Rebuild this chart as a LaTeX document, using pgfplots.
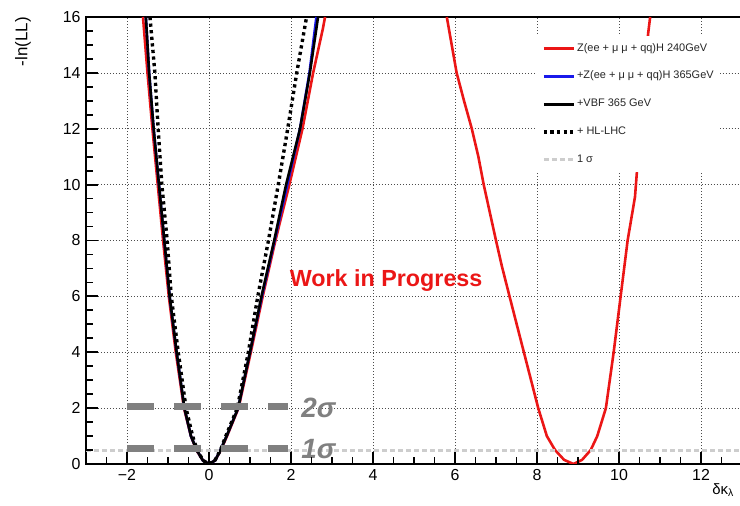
\documentclass[border=0pt]{standalone}
\usepackage{pgfplots}
\pgfplotsset{compat=1.18}
\usepackage{fontspec}
\setmainfont{Liberation Sans}

\definecolor{rootred}{RGB}{235,22,22}
\definecolor{rootblue}{RGB}{25,25,235}
\definecolor{annogray}{RGB}{128,128,128}
\definecolor{siggray}{RGB}{205,205,205}

\begin{document}
\begin{tikzpicture}
\begin{axis}[
  name=ax,
  at={(0,0)}, anchor=south west,
  scale only axis,
  width=656bp, height=447bp,
  xmin=-3, xmax=13.0, ymin=0, ymax=16,
  xtick={-2,0,...,12}, ytick={0,2,...,16},
  xticklabels={−2,0,2,4,6,8,10,12},
  minor x tick num=3, minor y tick num=3,
  tick pos=left,
  tick align=inside,
  major tick length=12bp, minor tick length=7bp,
  xmajorgrids=true, ymajorgrids=true,
  major grid style={black!70, line width=0.7pt, dash pattern=on 0.8pt off 2.2pt},
  axis line style={black, line width=1.4pt},
  tick style={draw=black, solid, line width=1.8pt},
  ticklabel style={font=\fontsize{16}{16}\selectfont},
  xticklabel style={yshift=-2bp},
  yticklabel style={xshift=-2bp},
  /pgf/number format/assume math mode=true,
  legend style={at={(axis cs:8.0,15.32)}, anchor=north west, draw=none, fill=white,
    font=\fontsize{11}{12}\selectfont, text=black!85,
    inner xsep=5bp, inner ysep=6bp, row sep=14.8bp,
    nodes={inner sep=1.5bp, text height=7.5bp, text depth=2.5bp}},
  legend cell align=left,
  legend image code/.code={\draw[#1] (0bp,0bp) -- (30bp,0bp);},
]

% Z(ee+mumu+qq)H at 240 GeV: well around zero
\addplot[rootred, line width=2.6pt, line join=round] coordinates {
  (-1.61,16) (-1.50,14) (-1.38,12) (-1.25,10) (-1.12,8) (-0.98,6) (-0.81,4)
  (-0.61,2) (-0.44,1) (-0.31,0.5) (-0.15,0.13) (0,0) (0.15,0.13) (0.29,0.5)
  (0.44,1) (0.72,2) (1.02,4) (1.31,6) (1.62,8) (1.96,10) (2.28,12) (2.54,14)
  (2.78,15.6) (2.83,16)
};
\addlegendentry{Z(ee + μ μ + qq)H 240GeV}
% second minimum of the same scan
\addplot[rootred, line width=2.6pt, line join=round, forget plot] coordinates {
  (5.80,16) (5.92,15) (6.04,14) (6.22,13) (6.41,12) (6.57,11) (6.70,10)
  (7.00,8) (7.14,7.1) (7.33,6) (7.68,4) (8.03,2) (8.24,1) (8.44,0.5)
  (8.66,0.15) (8.89,0) (9.10,0.15) (9.31,0.5) (9.47,1) (9.68,2) (9.87,4)
  (10.04,6) (10.21,8) (10.39,9.56) (10.44,10.52) (10.55,12) (10.64,14)
  (10.71,15.4) (10.76,16)
};
% + Z(ee+mumu+qq)H at 365 GeV
\addplot[rootblue, line width=2.6pt, line join=round] coordinates {
  (-1.54,16) (-1.46,14) (-1.35,12) (-1.22,10) (-1.09,8) (-0.96,6) (-0.79,4)
  (-0.60,2) (-0.44,1) (-0.30,0.5) (-0.15,0.13) (0,0) (0.15,0.13) (0.28,0.5)
  (0.43,1) (0.71,2) (1.0,4) (1.29,6) (1.60,8) (1.91,10) (2.22,12) (2.45,14)
  (2.62,16)
};
\addlegendentry{+Z(ee + μ μ + qq)H 365GeV}
% + VBF at 365 GeV
\addplot[black, line width=2.6pt, line join=round] coordinates {
  (-1.54,16) (-1.46,14) (-1.35,12) (-1.22,10) (-1.09,8) (-0.96,6) (-0.79,4)
  (-0.60,2) (-0.44,1) (-0.30,0.5) (-0.15,0.13) (0,0) (0.15,0.13) (0.28,0.5)
  (0.43,1) (0.71,2) (1.0,4) (1.28,6) (1.59,8) (1.88,10) (2.22,12) (2.46,14)
  (2.66,16)
};
\addlegendentry{+VBF 365 GeV}
% + HL-LHC
\addplot[black, line width=3.4pt, dash pattern=on 3.2bp off 3.4bp] coordinates {
  (-1.44,16) (-1.32,14) (-1.24,12) (-1.15,10) (-1.02,8) (-0.92,6) (-0.75,4)
  (-0.56,2) (-0.40,1) (-0.29,0.5) (-0.14,0.12) (0,0) (0.14,0.12) (0.28,0.5)
  (0.41,1) (0.69,2) (0.96,4) (1.19,6) (1.45,8) (1.69,10) (1.92,12) (2.14,14)
  (2.38,16)
};
\addlegendentry{+ HL-LHC}
% one-sigma level
\addplot[siggray, line width=3pt, dash pattern=on 5bp off 3bp] coordinates {(-3,0.5) (13,0.5)};
\addlegendentry{1 σ}

% 1 sigma / 2 sigma guides
\addplot[annogray, line width=7bp, dash pattern=on 27bp off 20bp, forget plot] coordinates {(-2,2.05) (1.93,2.05)};
\addplot[annogray, line width=7bp, dash pattern=on 27bp off 20bp, forget plot] coordinates {(-2,0.56) (1.93,0.56)};

\node[font=\bfseries\fontsize{23.4}{23.4}\selectfont, text=rootred, anchor=base] at (axis cs:4.32,6.35) {Work in Progress};
\node[font=\bfseries\itshape\fontsize{28}{28}\selectfont, text=annogray, anchor=base west, inner sep=0pt] at (axis cs:2.25,1.65) {2σ};
\node[font=\bfseries\itshape\fontsize{28}{28}\selectfont, text=annogray, anchor=base west, inner sep=0pt] at (axis cs:2.25,0.18) {1σ};
\end{axis}

% tick marks on the inner side of the frame (41bp per x unit, 27.9375bp per y unit)
\foreach \v in {-2,0,...,12}
  \draw[black, line width=1.8pt] ([xshift={(\v+3)*41bp}]ax.south west) -- ++(0bp,12bp);
\foreach \v in {-2.5,-1.5,-1,-0.5,0.5,1,1.5,2.5,3,3.5,4.5,5,5.5,6.5,7,7.5,8.5,9,9.5,10.5,11,11.5,12.5}
  \draw[black, line width=1.8pt] ([xshift={(\v+3)*41bp}]ax.south west) -- ++(0bp,7bp);
\foreach \v in {2,4,...,14}
  \draw[black, line width=1.8pt] ([yshift={\v*27.9375bp}]ax.south west) -- ++(12bp,0bp);
\foreach \v in {0.5,1,1.5,2.5,3,3.5,4.5,5,5.5,6.5,7,7.5,8.5,9,9.5,10.5,11,11.5,12.5,13,13.5,14.5,15,15.5}
  \draw[black, line width=1.8pt] ([yshift={\v*27.9375bp}]ax.south west) -- ++(7bp,0bp);

\node[rotate=90, anchor=south east, inner sep=0pt, font=\fontsize{17}{17}\selectfont] at ([xshift=-55bp]ax.north west) {-ln(LL)};
\node[anchor=north east, inner sep=0pt, font=\fontsize{15}{15}\selectfont] at ([xshift=-8bp, yshift=-19bp]ax.south east) {δκ\textsubscript{λ}};

\pgfresetboundingbox
\path[use as bounding box] ([xshift=-86bp, yshift=-42bp]ax.south west) rectangle ++(740bp,506bp);
\end{tikzpicture}
\end{document}
